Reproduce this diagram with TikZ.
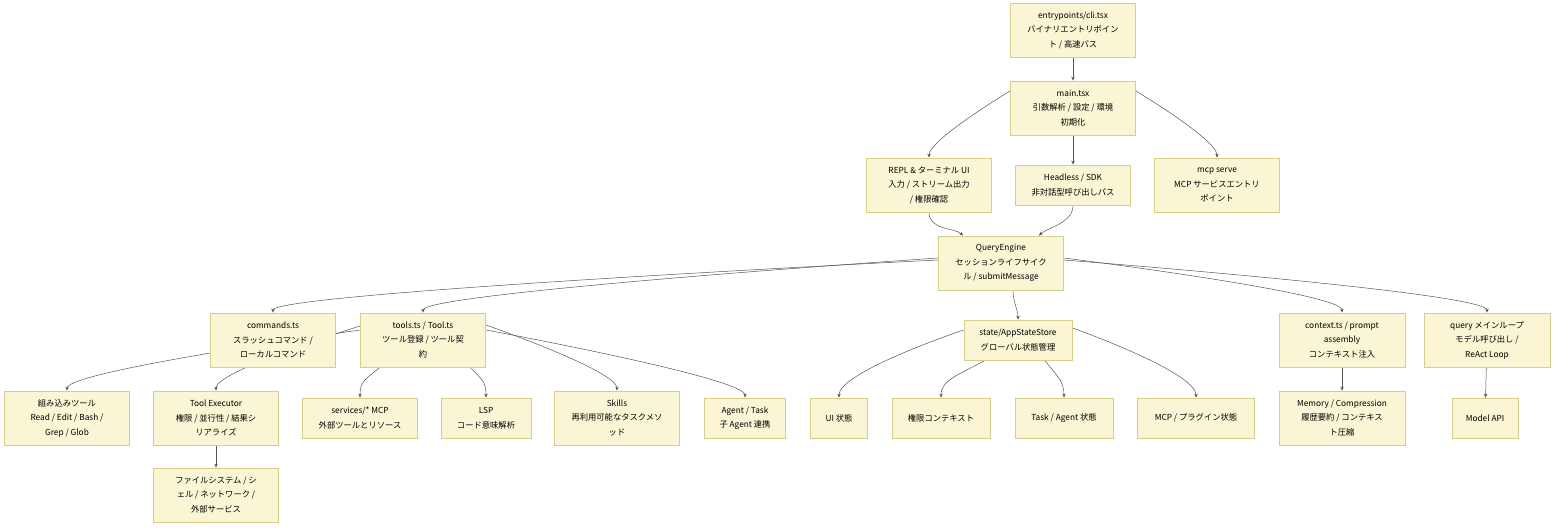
\documentclass[tikz,border=0pt]{standalone}
\usepackage{fontspec}
\setmainfont{Noto Sans CJK JP}
\usetikzlibrary{arrows.meta,backgrounds}
\definecolor{bfill}{HTML}{FAF5D5}
\definecolor{bdraw}{HTML}{D8CE8C}
\definecolor{edge}{HTML}{555555}
\tikzset{
 box/.style={draw=bdraw,fill=bfill,line width=0.8pt,align=center,font=\fontsize{8.3}{14.5}\selectfont,inner sep=0pt,minimum height=#1},
 box/.default=54,
 con/.style={draw=edge,line width=0.5pt,-{Stealth[length=4pt,width=3.5pt]}}
}
\newcommand{\crv}[3]{\draw[con] (#1) .. controls (#1) and +(0,-#3) .. (#2);}
\begin{document}
\begin{tikzpicture}[x=1pt,y=-1pt]
\useasboundingbox (0,0) rectangle (1568,532);
\node[box,minimum width=125] (cli) at (1073,30) {entrypoints/cli.tsx\\バイナリエントリポイン\\ト / 高速パス};
\node[box,minimum width=125] (main) at (1073,108) {main.tsx\\引数解析 / 設定 / 環境\\初期化};
\node[box,minimum width=125] (repl) at (929,185) {REPL \& ターミナル UI\\入力 / ストリーム出力\\/ 権限確認};
\node[box=40,minimum width=115] (head) at (1073,185) {Headless / SDK\\非対話型呼び出しパス};
\node[box,minimum width=125] (mcp) at (1217,185) {mcp serve\\MCP サービスエントリ\\ポイント};
\node[box,minimum width=125] (qe) at (1001,263) {QueryEngine\\セッションライフサイク\\ル / submitMessage};
\node[box,minimum width=125] (cmd) at (273,340) {commands.ts\\スラッシュコマンド /\\ローカルコマンド};
\node[box,minimum width=125] (tools) at (423,340) {tools.ts / Tool.ts\\ツール登録 / ツール契\\約};
\node[box=40,minimum width=108] (state) at (1018,340) {state/AppStateStore\\グローバル状態管理};
\node[box,minimum width=126] (ctx) at (1342,340) {context.ts / prompt\\assembly\\コンテキスト注入};
\node[box,minimum width=126] (query) at (1487,340) {query メインループ\\モデル呼び出し /\\ReAct Loop};
\node[box,minimum width=125] (builtin) at (67,418) {組み込みツール\\Read / Edit / Bash /\\Grep / Glob};
\node[box,minimum width=125] (exec) at (216,418) {Tool Executor\\権限 / 並行性 / 結果シ\\リアライズ};
\node[box=40,minimum width=115] (svc) at (360,418) {services/* MCP\\外部ツールとリソース};
\node[box=40,minimum width=90] (lsp) at (486,418) {LSP\\コード意味解析};
\node[box,minimum width=125] (skills) at (617,418) {Skills\\再利用可能なタスクメソ\\ッド};
\node[box=40,minimum width=81] (agent) at (745,418) {Agent / Task\\子 Agent 連携};
\node[box=40,minimum width=57] (ui) at (839,418) {UI 状態};
\node[box=40,minimum width=98] (perm) at (941,418) {権限コンテキスト};
\node[box=40,minimum width=98] (tstate) at (1064,418) {Task / Agent 状態};
\node[box=40,minimum width=117] (mstate) at (1196,418) {MCP / プラグイン状態};
\node[box,minimum width=126] (mem) at (1342,418) {Memory / Compression\\履歴要約 / コンテキス\\ト圧縮};
\node[box=40,minimum width=66] (api) at (1485,418) {Model API};
\node[box,minimum width=125] (fs) at (216,495) {ファイルシステム / シ\\ェル / ネットワーク /\\外部サービス};
\begin{scope}[on background layer]
\coordinate (m1) at ([yshift=17]main.west);
\coordinate (m2) at ([yshift=17]main.east);
\coordinate (r1) at (repl.south);
\coordinate (h1) at (head.south);
\coordinate (q1) at ([yshift=3]qe.west);
\coordinate (q2) at ([yshift=5]qe.west);
\coordinate (q3) at ([xshift=12]qe.south);
\coordinate (q4) at ([yshift=5]qe.east);
\coordinate (q5) at ([yshift=3]qe.east);
\coordinate (t1) at ([yshift=10]tools.west);
\coordinate (t2) at ([yshift=14]tools.west);
\coordinate (t3) at ([xshift=-43]tools.south);
\coordinate (t4) at ([xshift=47]tools.south);
\coordinate (t5) at ([yshift=15]tools.east);
\coordinate (t6) at ([yshift=10]tools.east);
\coordinate (s1) at ([yshift=10]state.west);
\coordinate (s2) at ([xshift=-33]state.south);
\coordinate (s3) at ([xshift=27]state.south);
\coordinate (s4) at ([yshift=12]state.east);
\draw[con] (cli) -- (main);
\draw[con] (main) -- (head);
\crv{m1}{repl.north}{18}
\crv{m2}{mcp.north}{18}
\draw[con] (r1) .. controls +(0,18) and +(-8,-8) .. ([xshift=-38]qe.north);
\draw[con] (h1) .. controls +(0,18) and +(8,-8) .. ([xshift=38]qe.north);
\crv{q1}{cmd.north}{20}
\crv{q2}{tools.north}{20}
\draw[con] (q3) .. controls +(0,12) and +(0,-10) .. (state.north);
\crv{q4}{ctx.north}{20}
\crv{q5}{query.north}{20}
\crv{t1}{builtin.north}{20}
\crv{t2}{exec.north}{20}
\draw[con] (t3) .. controls +(-15,12) and +(0,-16) .. (svc.north);
\draw[con] (t4) .. controls +(12,12) and +(0,-16) .. (lsp.north);
\crv{t5}{skills.north}{20}
\crv{t6}{agent.north}{20}
\draw[con] (exec) -- (fs);
\crv{s1}{ui.north}{26}
\draw[con] (s2) .. controls +(-25,14) and +(0,-18) .. (perm.north);
\draw[con] (s3) .. controls +(10,14) and +(0,-18) .. (tstate.north);
\crv{s4}{mstate.north}{26}
\draw[con] (ctx) -- (mem);
\draw[con] (query) -- (api);
\end{scope}
\end{tikzpicture}
\end{document}
